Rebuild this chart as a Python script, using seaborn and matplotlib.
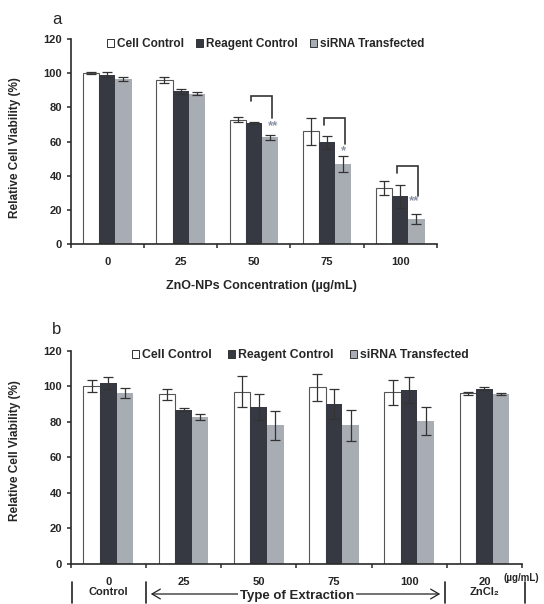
import numpy as np
import pandas as pd
import matplotlib
matplotlib.use('Agg')
import matplotlib.pyplot as plt
import seaborn as sns
from matplotlib.patches import Patch

# ---------------- data ----------------
groups = ['Cell Control', 'Reagent Control', 'siRNA Transfected']

conc_a = ['0', '25', '50', '75', '100']
cell_a = [100, 96, 72.8, 66, 32.8]
reag_a = [99, 89.5, 71, 59.7, 28]
sirna_a = [96.5, 88, 62.5, 47, 14.5]
cell_a_err = [0.5, 1.5, 1.5, 7.8, 4.2]
reag_a_err = [1.5, 1.5, 0.7, 3.8, 6.7]
sirna_a_err = [1.0, 0.8, 1.5, 4.8, 3.0]

conc_b = ['0', '25', '50', '75', '100', '20']
tick_b = ['0\nControl', '25', '50', '75', '100', '20\nZnCl\u2082']
cell_b = [100, 95.4, 97, 99.3, 96.5, 96]
reag_b = [101.7, 86.8, 88.2, 90, 97.8, 98.7]
sirna_b = [96, 82.7, 78, 78, 80.3, 95.6]
cell_b_err = [3.4, 3.3, 8.6, 7.7, 7.2, 1.0]
reag_b_err = [3.3, 1.0, 7.4, 8.6, 7.4, 0.8]
sirna_b_err = [2.8, 1.5, 8.0, 8.6, 8.0, 0.6]

# significance brackets in panel a
sig_group = [2, 3, 4]
sig_label = ['**', '*', '**']
sig_top = [86.8, 73.6, 45.4]
sig_left_bottom = [83.5, 69.7, 41.3]
sig_right_bottom = [73.8, 58.6, 27.9]
sig_star_y = [69.0, 54.5, 25.0]
sig_star_dx = [0.26, 0.23, 0.18]

# ---------------- style ----------------
sns.set_style('ticks')
plt.rcParams['font.family'] = ['Liberation Sans', 'DejaVu Sans']
plt.rcParams['font.weight'] = 'bold'
plt.rcParams['axes.labelweight'] = 'bold'

colors = {'Cell Control': '#ffffff', 'Reagent Control': '#363941',
          'siRNA Transfected': '#a8acb3'}
edge_dark = '#2a2a2a'
W, H = 544, 604

fig = plt.figure(figsize=(W / 100, H / 100), dpi=100)


def px_axes(l, r, t, b):
    return fig.add_axes([l / W, 1 - b / H, (r - l) / W, (b - t) / H])


def px(x, y):
    return (x / W, 1 - y / H)


def draw_panel(ax, cats, ticklabels, vals, errs):
    rows = []
    for g, v in zip(groups, vals):
        for c, val in zip(cats, v):
            rows.append({'conc': c, 'val': val, 'group': g})
    df = pd.DataFrame(rows)
    sns.barplot(data=df, x='conc', y='val', hue='group', order=cats,
                hue_order=groups, palette=colors, width=0.66, errorbar=None,
                saturation=1, linewidth=0, legend=False, ax=ax)
    for cont, e in zip(ax.containers, errs):
        xs = [b.get_x() + b.get_width() / 2 for b in cont]
        hs = [b.get_height() for b in cont]
        ax.errorbar(xs, hs, yerr=e, fmt='none', ecolor='#333333',
                    elinewidth=0.9, capsize=3.5, capthick=0.9, zorder=4)
    for b in ax.containers[0]:
        b.set_edgecolor('#555555')
        b.set_linewidth(0.8)
    n = len(cats)
    ax.set_xlim(-0.5, n - 0.5)
    ax.set_ylim(0, 120)
    ax.set_yticks(range(0, 121, 20))
    ax.set_xticks(range(n))
    ax.set_xticklabels(ticklabels, fontsize=8, fontweight='bold', linespacing=1.0)
    ax.set_xticks(np.arange(-0.5, n), minor=True)
    ax.tick_params(axis='x', which='major', length=0, pad=9.5)
    ax.tick_params(axis='x', which='minor', length=3.2, width=1.1,
                   color=edge_dark, direction='out')
    ax.tick_params(axis='y', which='major', length=3.2, width=1.1,
                   color=edge_dark, labelsize=8, pad=3)
    for lab in ax.get_yticklabels():
        lab.set_fontweight('bold')
    sns.despine(ax=ax)
    for s in ['left', 'bottom']:
        ax.spines[s].set_linewidth(1.2)
        ax.spines[s].set_color(edge_dark)
    ax.set_xlabel('')
    ax.set_ylabel('Relative Cell Viability (%)', fontsize=8.5, fontweight='bold')


def legend(ax, x, y, fs, colsp):
    handles = [Patch(facecolor=colors[g], edgecolor='#333333', linewidth=0.7, label=g)
               for g in groups]
    ax.legend(handles=handles, loc='center left', bbox_to_anchor=(x, y), ncol=3,
              frameon=False, handlelength=0.6, handleheight=0.6,
              handletextpad=0.25, columnspacing=colsp, borderpad=0,
              borderaxespad=0, prop={'weight': 'bold', 'size': fs})


# ---------------- panel a ----------------
axa = px_axes(70.7, 437, 39, 244)
draw_panel(axa, conc_a, conc_a, [cell_a, reag_a, sirna_a],
           [cell_a_err, reag_a_err, sirna_a_err])
axa.set_xlabel('ZnO-NPs Concentration (\u00b5g/mL)', fontsize=9, fontweight='bold')
axa.xaxis.set_label_coords(0.522, -0.175)
axa.yaxis.set_label_coords(-0.136, 0.47)
legend(axa, 0.1, 0.975, 8.5, 1.0)

for g, lab, top, lb, rb, sy, sdx in zip(sig_group, sig_label, sig_top,
                                        sig_left_bottom, sig_right_bottom,
                                        sig_star_y, sig_star_dx):
    xl, xr = g - 0.045, g + 0.245
    axa.plot([xl, xl, xr, xr], [lb, top, top, rb], color='#333333', lw=1.2,
             solid_joinstyle='miter', zorder=5)
    axa.text(g + sdx, sy, lab, color='#8a93a6', fontsize=9.5, ha='center',
             va='center', fontweight='bold', zorder=5)

fig.text(*px(57, 20), 'a', fontsize=12, fontweight='normal', ha='center', va='center')

# ---------------- panel b ----------------
axb = px_axes(70.7, 522, 350.7, 564)
draw_panel(axb, conc_b, tick_b, [cell_b, reag_b, sirna_b],
           [cell_b_err, reag_b_err, sirna_b_err])
axb.yaxis.set_label_coords(-0.110, 0.53)
legend(axb, 0.136, 0.98, 8.8, 1.3)

fig.text(*px(57, 330), 'b', fontsize=12, fontweight='normal', ha='center', va='center')

# bottom annotation of panel b
for xv in [71.7, 146, 445, 525]:
    fig.add_artist(plt.Line2D([xv / W, xv / W], [1 - 582 / H, 1 - 603 / H],
                              color='#222222', lw=1.2))
fig.add_artist(matplotlib.patches.FancyArrowPatch(
    px(148, 594), px(443, 594), arrowstyle='<->,head_length=6,head_width=3.5',
    color='#222222', lw=0.9, mutation_scale=1))
fig.text(*px(297, 596), 'Type of Extraction', fontsize=9.5, fontweight='bold',
         ha='center', va='center',
         bbox=dict(facecolor='white', edgecolor='none', pad=1.5))
fig.text(*px(503, 578), '(\u00b5g/mL)', fontsize=7, fontweight='bold',
         ha='left', va='center')

fig.savefig('out.png', dpi=100, facecolor='white')
